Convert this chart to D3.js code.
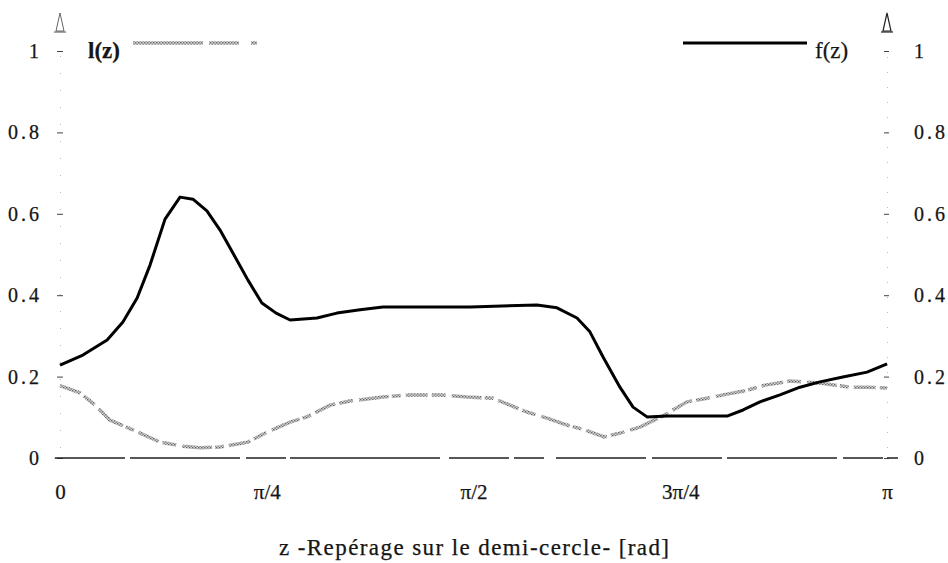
<!DOCTYPE html>
<html>
<head>
<meta charset="utf-8">
<script src="https://cdn.jsdelivr.net/npm/d3@7/dist/d3.min.js"></script>
<style>
  html, body { margin: 0; padding: 0; background: #fff; }
  svg { display: block; }
  svg text { font-family: "Liberation Serif", "Times New Roman", "DejaVu Serif", serif !important;
             fill: #151515; stroke: #151515; stroke-width: 0.25px; }
</style>
</head>
<body>
<svg id="chart" width="948" height="563"></svg>
<script>
// Angle along the half circle (rad) and the two profiles
const fZ = [0, 0.087, 0.179, 0.239, 0.293, 0.342, 0.399, 0.456, 0.505, 0.558,
            0.608, 0.661, 0.714, 0.767, 0.821, 0.874, 0.976, 1.052, 1.140, 1.227,
            1.406, 1.558, 1.812, 1.888, 1.964, 2.013, 2.063, 2.127, 2.177, 2.230,
            2.306, 2.534, 2.595, 2.659, 2.735, 2.811, 2.887, 2.974, 3.066, 3.142];
const fVal = [0.228, 0.253, 0.290, 0.334, 0.393, 0.474, 0.587, 0.641, 0.636, 0.607,
              0.560, 0.499, 0.437, 0.381, 0.356, 0.339, 0.344, 0.356, 0.364, 0.371,
              0.371, 0.371, 0.376, 0.369, 0.344, 0.310, 0.248, 0.174, 0.125, 0.101,
              0.103, 0.103, 0.118, 0.138, 0.155, 0.174, 0.187, 0.199, 0.211, 0.231];

const lZ = [0, 0.076, 0.133, 0.190, 0.277, 0.380, 0.467, 0.532, 0.608, 0.714,
            0.779, 0.874, 0.938, 1.026, 1.101, 1.227, 1.330, 1.444, 1.546, 1.645,
            1.709, 1.774, 1.850, 1.926, 1.994, 2.067, 2.127, 2.203, 2.298, 2.382,
            2.458, 2.534, 2.602, 2.678, 2.773, 2.887, 3.001, 3.066, 3.142];
const lVal = [0.178, 0.160, 0.130, 0.093, 0.069, 0.039, 0.029, 0.025, 0.027, 0.039,
              0.061, 0.088, 0.101, 0.130, 0.140, 0.150, 0.155, 0.155, 0.150, 0.147,
              0.130, 0.113, 0.098, 0.081, 0.069, 0.052, 0.061, 0.076, 0.106, 0.138,
              0.147, 0.157, 0.165, 0.179, 0.189, 0.184, 0.174, 0.174, 0.172];

const xTicks = [0, Math.PI / 4, Math.PI / 2, 3 * Math.PI / 4, Math.PI];
const xTickLabels = ["0", "π/4", "π/2", "3π/4", "π"];
const yTicks = [0, 0.2, 0.4, 0.6, 0.8, 1];
const yTickLabels = ["0", "0.2", "0.4", "0.6", "0.8", "1"];
const seriesNames = ["l(z)", "f(z)"];
const xTitle = "z  -Repérage sur le demi-cercle-  [rad]";

const svg = d3.select("#chart");
const x = d3.scaleLinear().domain([0, Math.PI]).range([60, 887]);
const y = d3.scaleLinear().domain([0, 1]).range([458, 51]);

// stippled grey texture for the l(z) trace
const defs = svg.append("defs");
const pat = defs.append("pattern").attr("id", "stipple")
  .attr("patternUnits", "userSpaceOnUse").attr("width", 3).attr("height", 3);
pat.append("rect").attr("width", 3).attr("height", 3).attr("fill", "#d4d4d4");
pat.append("rect").attr("x", 0).attr("y", 0).attr("width", 1.4).attr("height", 1.4).attr("fill", "#666");
pat.append("rect").attr("x", 1.5).attr("y", 1.5).attr("width", 1.4).attr("height", 1.4).attr("fill", "#777");

// left axis
const yLeft = d3.axisLeft(y).tickValues(yTicks)
  .tickFormat((d, i) => yTickLabels[i]).tickSize(6).tickPadding(12);
const gl = svg.append("g").attr("transform", `translate(${x(0)},0)`).call(yLeft);
gl.select(".domain").attr("stroke", "#bbb").attr("stroke-dasharray", "1,16");
gl.selectAll(".tick line").attr("stroke", "#444").attr("stroke-width", 1)
  .attr("transform", "translate(3,0)");
gl.selectAll(".tick text").attr("font-size", 20).attr("letter-spacing", 3);

// right axis
const yRight = d3.axisRight(y).tickValues(yTicks)
  .tickFormat((d, i) => yTickLabels[i]).tickSize(5).tickPadding(22);
const gr = svg.append("g").attr("transform", `translate(${x(Math.PI)},0)`).call(yRight);
gr.select(".domain").attr("stroke", "#bbb").attr("stroke-dasharray", "1,14");
gr.selectAll(".tick line").attr("stroke", "#444").attr("stroke-width", 1)
  .attr("transform", "translate(-3,0)");
gr.selectAll(".tick text").attr("font-size", 20).attr("letter-spacing", 3);

// arrowheads on top of both vertical axes
[x(0), x(Math.PI)].forEach((ax, i) => {
  svg.append("path")
    .attr("d", `M${ax - 4},${y(1) - 20} L${ax},${y(1) - 38} L${ax + 4},${y(1) - 20} Z`)
    .attr("fill", "none").attr("stroke", i ? "#222" : "#555").attr("stroke-width", i ? 1.2 : 0.9);
  svg.append("line")
    .attr("x1", ax - 6).attr("x2", ax + 6)
    .attr("y1", y(1) - 19).attr("y2", y(1) - 19)
    .attr("stroke", i ? "#222" : "#666").attr("stroke-width", 1.2);
});

// bottom axis: labels only
const xAxis = d3.axisBottom(x).tickValues(xTicks)
  .tickFormat((d, i) => xTickLabels[i]).tickSize(0).tickPadding(26);
const gb = svg.append("g").attr("transform", `translate(0,${y(0)})`).call(xAxis);
gb.select(".domain").remove();
gb.selectAll(".tick text").attr("font-size", 21);

// zero line
svg.append("line")
  .attr("x1", x(0) - 5).attr("x2", x(Math.PI) + 11)
  .attr("y1", y(0)).attr("y2", y(0))
  .attr("stroke", "#222").attr("stroke-width", 1.4)
  .attr("stroke-dasharray", "70,5,110,6,40,4,150,9,60,5,30,12,90,6");

const line = d3.line().x(d => x(d[0])).y(d => y(d[1])).curve(d3.curveLinear);

// l(z)
svg.append("path")
  .datum(lZ.map((z, i) => [z, lVal[i]]))
  .attr("d", line)
  .attr("fill", "none").attr("stroke", "url(#stipple)")
  .attr("stroke-width", 3.5)
  .attr("stroke-dasharray", "22,4,14,6,30,3,9,5");

// f(z)
svg.append("path")
  .datum(fZ.map((z, i) => [z, fVal[i]]))
  .attr("d", line)
  .attr("fill", "none").attr("stroke", "#000")
  .attr("stroke-width", 3).attr("stroke-linejoin", "round");

// legend
const legY = y(1) - 8;
svg.append("text").attr("x", 88).attr("y", y(1) + 7)
  .attr("font-size", 23).attr("font-weight", "bold").text(seriesNames[0]);
svg.append("line").attr("x1", 133).attr("x2", 257)
  .attr("y1", legY).attr("y2", legY)
  .attr("stroke", "url(#stipple)").attr("stroke-width", 3.5)
  .attr("stroke-dasharray", "70,6,30,12,6");
svg.append("line").attr("x1", 683).attr("x2", 807)
  .attr("y1", legY).attr("y2", legY)
  .attr("stroke", "#000").attr("stroke-width", 3);
svg.append("text").attr("x", 815).attr("y", y(1) + 7)
  .attr("font-size", 23).text(seriesNames[1]);

// axis title
svg.append("text").attr("x", 474).attr("y", 555)
  .attr("text-anchor", "middle").attr("font-size", 23)
  .attr("textLength", 390).attr("lengthAdjust", "spacing")
  .text(xTitle);
</script>
</body>
</html>
